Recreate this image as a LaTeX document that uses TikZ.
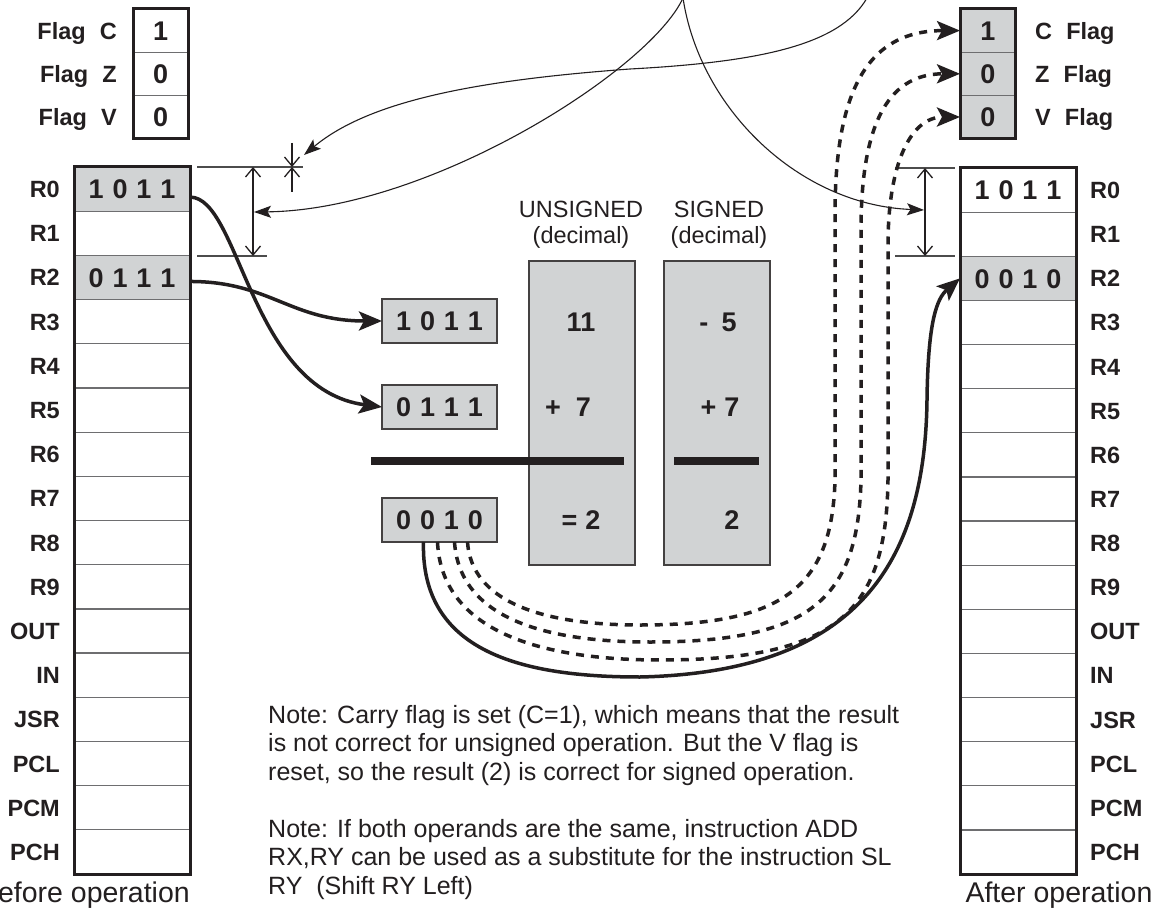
\documentclass[tikz,border=0pt]{standalone}
\usepackage{fontspec}
\setmainfont{Liberation Sans}
\usetikzlibrary{arrows.meta}
\definecolor{boxgray}{RGB}{209,211,212}
\definecolor{ink}{RGB}{35,31,32}
\definecolor{sepgray}{RGB}{110,110,112}
\newcommand\bitsq[4]{#1\hspace{.33em}#2\hspace{.33em}#3\hspace{.33em}#4}
\tikzset{
  lab/.style={font=\fontsize{23.5}{26}\selectfont\bfseries, text=ink, inner sep=0pt, text height=16.9pt, text depth=0pt},
  dig/.style={font=\fontsize{27}{30}\selectfont\bfseries, text=ink, inner sep=0pt, text height=19.3pt, text depth=0pt},
  headtext/.style={font=\fontsize{23.5}{26}\selectfont, text=ink, inner sep=0pt, anchor=base},
  notetext/.style={font=\fontsize{25}{28}\selectfont, text=ink, inner sep=0pt, anchor=base west},
  bigtext/.style={font=\fontsize{28.5}{32}\selectfont, text=ink, inner sep=0pt, anchor=base},
  cell/.style={draw=sepgray, line width=1.2pt, minimum width=116pt, minimum height=44.19pt, inner sep=0pt, outer sep=0pt, anchor=north west},
  fcell/.style={draw=sepgray, line width=1.2pt, minimum width=55.5pt, minimum height=43.2pt, inner sep=0pt, outer sep=0pt, anchor=north west},
  regframe/.style={draw=ink, line width=3pt},
  opbox/.style={draw=ink!85, fill=boxgray, line width=1.4pt, minimum width=115pt, minimum height=44pt, inner sep=0pt, outer sep=0pt, anchor=north west},
  colbox/.style={draw=ink!85, fill=boxgray, line width=1.4pt, minimum width=106pt, minimum height=304pt, inner sep=0pt, outer sep=0pt, anchor=north west},
  rulebar/.style={draw=ink, line width=7.5pt},
  bigarrow/.style={draw=ink, line width=3.5pt, -{Stealth[length=23pt,width=19pt,inset=5pt]}},
  dasharrow/.style={bigarrow, dash pattern=on 8pt off 7pt},
  thinarrow/.style={draw=ink, line width=1.1pt, -{Stealth[length=17pt,width=12pt,inset=3.5pt]}},
  dimline/.style={draw=black!70, line width=1.2pt},
  dimarrow/.style={draw=ink, line width=1.3pt, {Straight Barb[length=9pt,width=15pt]}-{Straight Barb[length=9pt,width=15pt]}},
  onebarb/.style={draw=ink, line width=1.3pt, -{Straight Barb[length=9pt,width=15pt]}},
}
\begin{document}
\begin{tikzpicture}[x=1pt,y=-1pt]
\useasboundingbox[fill=white] (0,0) rectangle (1160,923);

% ---------- flags ----------
\foreach \i/\v/\f in {0/1/C,1/0/Z,2/0/V}{
  \node[fcell, fill=white] (LF\i) at (133,{9+43.2*\i}) {};
  \node[dig] (LFv\i) at (LF\i.center) {\v};
  \node[lab, anchor=east] (LFl\i) at (117,{30.6+43.2*\i}) {Flag\hspace{.6em}\f};
  \node[fcell, fill=boxgray] (RF\i) at (960,{9+43.2*\i}) {};
  \node[dig] (RFv\i) at (RF\i.center) {\v};
  \node[lab, anchor=west] (RFl\i) at (1035,{30.6+43.2*\i}) {\f\hspace{.6em}Flag};
}
\draw[regframe] (LF0.north west) rectangle (LF2.south east);
\draw[regframe] (RF0.north west) rectangle (RF2.south east);

% ---------- register files ----------
\foreach \i/\lab/\lf/\rf in {0/R0/boxgray/white,1/R1/white/white,2/R2/boxgray/boxgray,
  3/R3/white/white,4/R4/white/white,5/R5/white/white,6/R6/white/white,7/R7/white/white,
  8/R8/white/white,9/R9/white/white,10/OUT/white/white,11/IN/white/white,12/JSR/white/white,
  13/PCL/white/white,14/PCM/white/white,15/PCH/white/white}{
  \node[cell, fill=\lf] (LR\i) at (74,{167+44.19*\i}) {};
  \node[lab, anchor=east] (LRl\i) at (60,{167+44.19*(\i+0.5)}) {\lab};
  \node[cell, fill=\rf] (RR\i) at (960,{168+44.13*\i}) {};
  \node[lab, anchor=west] (RRl\i) at (1090,{168+44.13*(\i+0.5)}) {\lab};
}
\draw[regframe] (LR0.north west) rectangle (LR15.south east);
\draw[regframe] (RR0.north west) rectangle (RR15.south east);
\node[dig] (LRv0) at (LR0.center) {\bitsq1011};
\node[dig] (LRv2) at (LR2.center) {\bitsq0111};
\node[dig] (RRv0) at (RR0.center) {\bitsq1011};
\node[dig] (RRv2) at (RR2.center) {\bitsq0010};

% ---------- middle ----------
\node[colbox] (ucol) at (529,261) {};
\node[colbox] (scol) at (664,261) {};
\node[headtext] (uh1) at (581,217) {UNSIGNED};
\node[headtext] (uh2) at (581,243) {(decimal)};
\node[headtext] (sh1) at (719,217) {SIGNED};
\node[headtext] (sh2) at (719,243) {(decimal)};

\node[opbox] (A) at (382,299) {};
\node[dig] (Av) at (A.center) {\bitsq1011};
\node[opbox] (B) at (382,385) {};
\node[dig] (Bv) at (B.center) {\bitsq0111};
\node[opbox] (S) at (382,498) {};
\node[dig] (Sv) at (S.center) {\bitsq0010};

\node[dig] (u1) at (581,322) {11};
\node[dig] (s1) at (718,322) {-\hspace{.5em}5};
\node[dig] (u2) at (568,407) {+\hspace{.55em}7};
\node[dig] (s2) at (720,407) {+\hspace{.3em}7};
\node[dig] (u3) at (581,520) {=\hspace{.3em}2};
\node[dig] (s3) at (732,520) {2};

\draw[rulebar] (371,461) -- (624,461);
\draw[rulebar] (674,461) -- (759,461);

% ---------- dimension marks ----------
\draw[dimline] (197,167) -- (303,167);
\draw[dimline] (197,256) -- (267,256);
\draw[dimarrow] (253,167) -- (253,256);
\draw[onebarb] (292,143) -- (292,167);
\draw[onebarb] (292,192) -- (292,167);
\draw[dimline] (895,168) -- (955,168);
\draw[dimline] (895,256) -- (955,256);
\draw[dimarrow] (925,168) -- (925,256);

% ---------- thin annotation curves ----------
\coordinate (t1) at (683,-2);
\coordinate (t2) at (867,-2);
\coordinate (dl) at (254,212);
\coordinate (ds) at (304,155);
\coordinate (dr) at (924,210);
\draw[thinarrow] (t1) .. controls (650,70) and (430,210) .. (dl);
\draw[thinarrow] (t1) .. controls (700,110) and (800,205) .. (dr);
\draw[thinarrow] (t2) .. controls (840,45) and (760,62) .. (630,69) .. controls (480,80) and (370,100) .. (ds);

% ---------- operand connectors ----------
\draw[bigarrow] ([yshift=-8pt]LR0.east) .. controls +(50,0) and +(-132,-17) .. (B.west);
\draw[bigarrow] ([yshift=-4pt]LR2.east) .. controls +(80,0) and +(-92,0) .. (A.west);

% ---------- result connectors ----------
\draw[bigarrow] ([xshift=-16pt]S.south) .. controls +(-3,109) and +(-120,0) .. (640,677)
   .. controls +(220,-5) and +(-2,160) .. (927,400) .. controls +(1,-80) and +(-23,20) .. (RR2.west);
\draw[dasharrow] ([xshift=28pt]S.south) .. controls +(4,59) and +(-100,0) .. (640,625)
   .. controls +(140,0) and +(-3,110) .. (835,480) -- (835,215) .. controls +(0,-120) and +(-95,0) .. (RF0.west);
\draw[dasharrow] ([xshift=15pt]S.south) .. controls +(5,74) and +(-110,0) .. (650,642)
   .. controls +(160,0) and +(-3,120) .. (861,480) -- (861,230) .. controls +(0,-100) and +(-75,0) .. (RF1.west);
\draw[dasharrow] ([xshift=-2pt]S.south) .. controls +(4,89) and +(-120,0) .. (660,660)
   .. controls +(180,0) and +(-2,130) .. (888,480) -- (888,245) .. controls +(0,-80) and +(-50,0) .. (RF2.west);

% ---------- notes ----------
\node[notetext] (n1a) at (268,723) {Note: Carry flag is set (C=1), which means that the result};
\node[notetext] (n1b) at (268,751.5) {is not correct for unsigned operation. But the V flag is};
\node[notetext] (n1c) at (268,780) {reset, so the result (2) is correct for signed operation.};
\node[notetext] (n2a) at (268,837) {Note: If both operands are the same, instruction ADD};
\node[notetext] (n2b) at (268,865.5) {RX,RY can be used as a substitute for the instruction SL};
\node[notetext] (n2c) at (268,894) {RY\ \ (Shift RY Left)};

\node[bigtext, anchor=base east] (before) at (190,902) {Before operation};
\node[bigtext] (after) at (1059,902) {After operation};
\end{tikzpicture}
\end{document}
